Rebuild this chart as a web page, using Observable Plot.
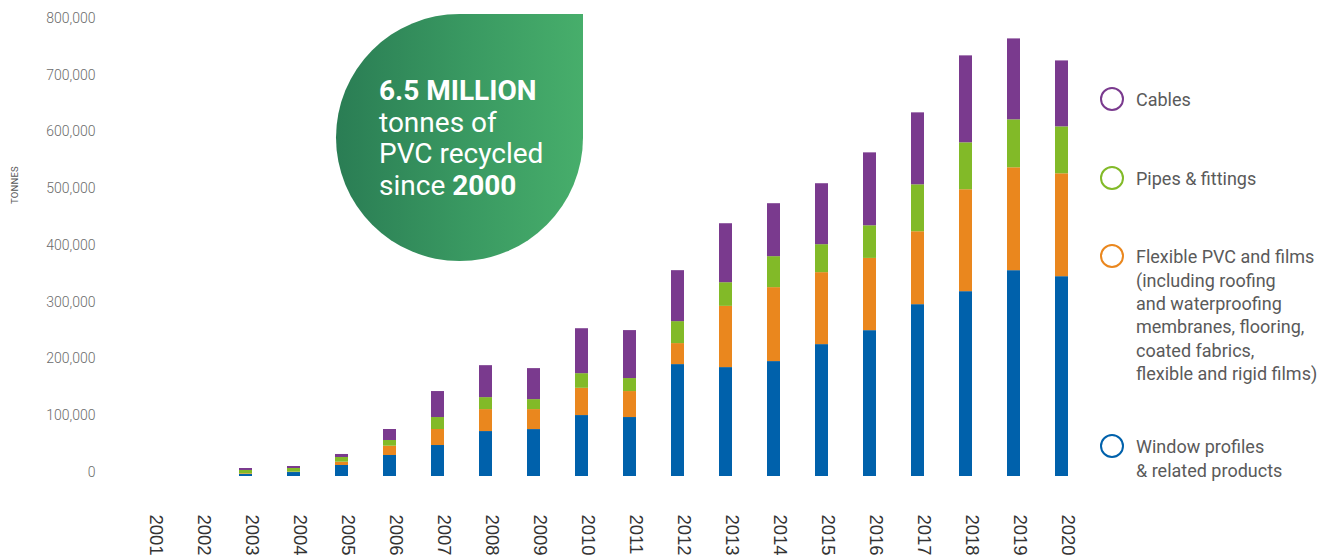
<!DOCTYPE html>
<html>
<head>
<meta charset="utf-8">
<script src="https://cdn.jsdelivr.net/npm/d3@7"></script>
<script src="https://cdn.jsdelivr.net/npm/@observablehq/plot@0.6"></script>
<style>
  html, body { margin: 0; padding: 0; background: #fff; }
  #wrap { position: relative; width: 1338px; height: 559px; overflow: hidden; font-family: Roboto, "Noto Sans", sans-serif; }
  #chart { position: absolute; left: 0; top: 0; }
  #leaf {
    position: absolute; left: 336px; top: 14px; width: 247px; height: 247px;
    border-radius: 50% 0 50% 50%;
    background: linear-gradient(90deg, #2a7d54 0%, #3a9a62 55%, #47ae6b 100%);
  }
  #leaf .txt {
    position: absolute; left: 43px; top: 61px; color: #fff;
    font-family: Roboto, sans-serif; font-size: 28px; line-height: 31.5px; white-space: nowrap;
  }
  #leaf b { font-weight: 700; }
  .leg { position: absolute; left: 1100px; display: flex; align-items: flex-start; }
  .leg .dot { width: 20px; height: 20px; border-radius: 50%; border: 2.6px solid; flex: none; margin-top: 0px; }
  .leg .lab { margin-left: 12px; margin-top: 1.5px; font-size: 18px; line-height: 23.3px; color: #5a5a5a; white-space: nowrap; }
  #tonnes { position: absolute; left: 14px; top: 185px; transform: translate(-50%, -50%) rotate(-90deg); font-size: 9.5px; color: #555; letter-spacing: 0.2px; }
</style>
</head>
<body>
<div id="wrap">
  <div id="chart"></div>
  <div id="tonnes">TONNES</div>
  <div id="leaf"><div class="txt"><b>6.5 MILLION</b><br>tonnes of<br>PVC recycled<br>since <b>2000</b></div></div>
  <div id="legend"></div>
</div>
<script>
const years = [2001,2002,2003,2004,2005,2006,2007,2008,2009,2010,2011,2012,2013,2014,2015,2016,2017,2018,2019,2020];
// tonnes
const windowProfiles = [0,0,3500,7000,19400,37000,54600,79200,82700,107400,103900,197200,191900,202500,232400,257000,302800,325700,362700,352100];
const flexiblePVC    = [0,0,1200,600,5900,16400,28200,38700,35200,48000,45800,37000,107900,130300,126800,127300,128500,179600,181300,181300];
const pipesFittings  = [0,0,5900,6500,8200,10000,21100,21100,17600,25800,22900,38700,41700,54600,49300,57500,82700,82700,84500,82700];
const cables         = [0,0,3500,3500,5300,19400,45800,56300,54600,79200,84500,89800,103900,93300,107400,128500,126800,153200,142600,116200];

const seriesNames = ["Window profiles & related products", "Flexible PVC and films", "Pipes & fittings", "Cables"];
const seriesColors = ["#0061ab", "#ea871e", "#82ba28", "#7a3a8e"];
const seriesValues = [windowProfiles, flexiblePVC, pipesFittings, cables];
const yTicks = [0,100000,200000,300000,400000,500000,600000,700000,800000];

const legendItems = [
  {label: "Cables", color: "#7a3a8e", y: 99.5},
  {label: "Pipes &amp; fittings", color: "#82ba28", y: 178.5},
  {label: "Flexible PVC and films<br>(including roofing<br>and waterproofing<br>membranes, flooring,<br>coated fabrics,<br>flexible and rigid films)", color: "#ea871e", y: 256.5},
  {label: "Window profiles<br>&amp; related products", color: "#0061ab", y: 446.5}
];

const data = [];
seriesNames.forEach((s, i) => {
  years.forEach((yr, j) => data.push({year: yr, series: s, value: seriesValues[i][j]}));
});

const chart = Plot.plot({
  width: 1338,
  height: 559,
  marginLeft: 107,
  marginRight: 234,
  marginTop: 22,
  marginBottom: 83,
  style: {fontFamily: "Roboto, sans-serif", background: "transparent"},
  x: {type: "band", domain: years, padding: 0.73, axis: null},
  y: {domain: [0, 800000], axis: null},
  color: {domain: seriesNames, range: seriesColors},
  marks: [
    Plot.axisY({ticks: yTicks, tickSize: 0, tickPadding: 12, dy: -4, fontSize: 14, fontWeight: 300, color: "#6b6b6b", tickFormat: d3.format(","), label: null}),
    Plot.barY(data, {x: "year", y: "value", fill: "series", order: seriesNames}),
    Plot.text(years, {x: d => d, text: d => String(d), frameAnchor: "bottom", dy: 38, rotate: 90, textAnchor: "start", fontSize: 18.5, fill: "#333", fontFamily: "Liberation Sans, Arial, sans-serif"})
  ]
});
document.getElementById("chart").appendChild(chart);

const leg = document.getElementById("legend");
legendItems.forEach(it => {
  const d = document.createElement("div");
  d.className = "leg";
  d.style.top = (it.y - 12.6) + "px";
  d.innerHTML = `<div class="dot" style="border-color:${it.color}"></div><div class="lab">${it.label}</div>`;
  leg.appendChild(d);
});
</script>
</body>
</html>
